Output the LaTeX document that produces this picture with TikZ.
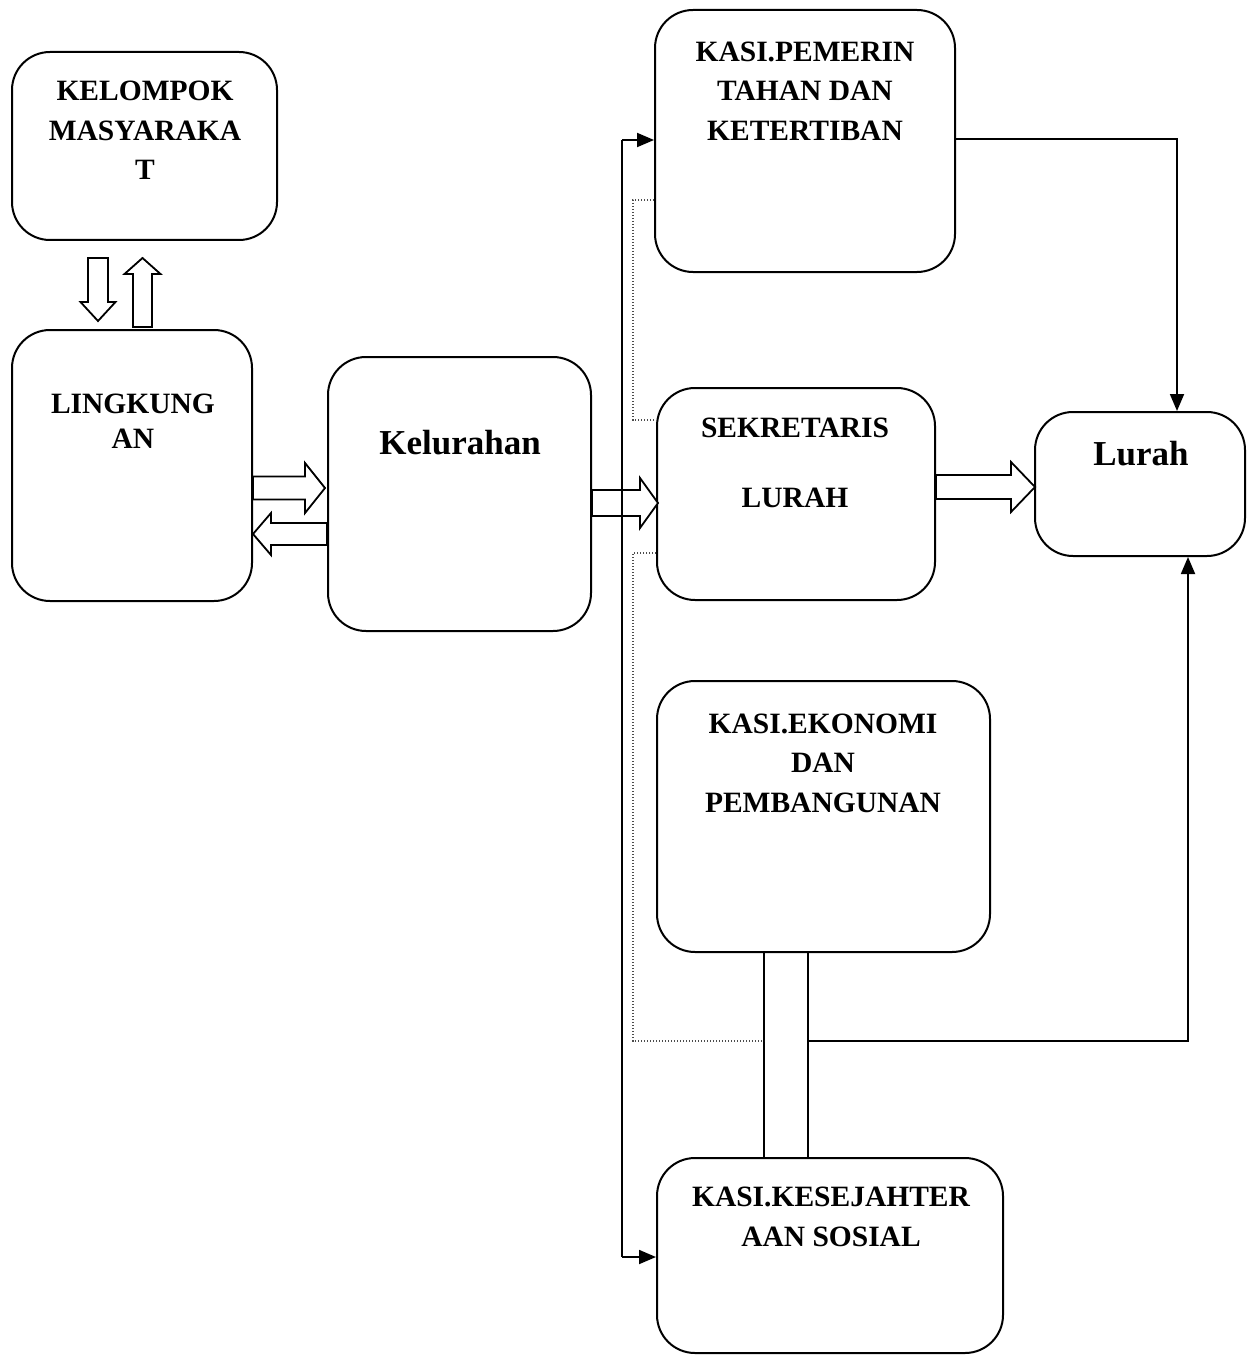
\documentclass[tikz,border=0pt]{standalone}
\usepackage{fontspec}
\setmainfont{Liberation Serif}
\usetikzlibrary{calc,arrows.meta}
\tikzset{
  box/.style={draw, rounded corners=38pt, line width=2pt, inner sep=0pt},
  txt/.style={font=\fontsize{29.5}{39.5}\selectfont\bfseries, align=center, inner sep=0pt},
  bigtxt/.style={font=\fontsize{35}{40}\selectfont\bfseries, inner sep=0pt},
  conn/.style={line width=1.9pt},
  tip/.style={-{Triangle[length=17pt,width=14pt]}},
  dots/.style={line width=1.5pt, dash pattern=on 1.4pt off 1.6pt, black!70},
  hollow/.style={draw, line width=1.8pt, fill=white, line join=miter}
}
% horizontal hollow arrow: tail, tip, shaft half width, head half width, signed head length
\newcommand{\harr}[5]{%
  \draw[hollow] let \p1=(#1), \p2=(#2) in
    (\x1,\y2+#3pt) -- (\x2-#5pt,\y2+#3pt) -- (\x2-#5pt,\y2+#4pt) -- (\x2,\y2)
    -- (\x2-#5pt,\y2-#4pt) -- (\x2-#5pt,\y2-#3pt) -- (\x1,\y2-#3pt) -- cycle;}
% vertical hollow arrow: tail, tip, shaft half width, head half width, signed head length (positive = down)
\newcommand{\varr}[5]{%
  \draw[hollow] let \p1=(#1), \p2=(#2) in
    (\x2-#3pt,\y1) -- (\x2-#3pt,\y2+#5pt) -- (\x2-#4pt,\y2+#5pt) -- (\x2,\y2)
    -- (\x2+#4pt,\y2+#5pt) -- (\x2+#3pt,\y2+#5pt) -- (\x2+#3pt,\y1) -- cycle;}
\begin{document}
\begin{tikzpicture}[x=1pt,y=-1pt]
\useasboundingbox (0,0) rectangle (1248,1356);

% boxes
\node[box, minimum width=265pt, minimum height=188pt] (kelompok) at (144.5,146) {};
\node[box, minimum width=240pt, minimum height=271pt] (lingk) at (132,465.5) {};
\node[box, minimum width=263pt, minimum height=274pt] (kelur) at (459.5,494) {};
\node[box, minimum width=300pt, minimum height=262pt] (pem) at (805,141) {};
\node[box, minimum width=278pt, minimum height=212pt] (sek) at (796,494) {};
\node[box, minimum width=210pt, minimum height=144pt] (lurah) at (1140,484) {};
\node[box, minimum width=333pt, minimum height=271pt] (eko) at (823.5,816.5) {};
\node[box, minimum width=346pt, minimum height=195pt] (kes) at (830,1255.5) {};

% texts
\node[txt] (tkelompok) at (145,130.5) {KELOMPOK\\MASYARAKA\\T};
\node[txt, font=\fontsize{29.5}{35}\selectfont\bfseries] (tlingk) at (133,421.5) {LINGKUNG\\AN};
\node[bigtxt] (tkelur) at (460,443) {Kelurahan};
\node[txt] (tpem) at (805,91) {KASI.PEMERIN\\TAHAN DAN\\KETERTIBAN};
\node[txt, font=\fontsize{29.5}{70}\selectfont\bfseries] (tsek) at (795,463) {SEKRETARIS\\LURAH};
\node[bigtxt] (tlurah) at (1141,454) {Lurah};
\node[txt] (teko) at (823,763) {KASI.EKONOMI\\DAN\\PEMBANGUNAN};
\node[txt, font=\fontsize{29.5}{40}\selectfont\bfseries] (tkes) at (831,1217) {KASI.KESEJAHTER\\AAN SOSIAL};

% hollow arrows
\varr{$(kelompok.south)+(-46.5,17)$}{$(lingk.north)+(-34,-8)$}{10}{17.5}{19}
\varr{$(lingk.north)+(10.5,-2)$}{$(kelompok.south)+(-2,17)$}{9.5}{18}{-16}
\harr{$(lingk.east)+(0,22.5)$}{$(kelur.west)+(-2,-6)$}{11.5}{25}{20}
\harr{$(kelur.west)+(0,40)$}{$(lingk.east)+(0,68.5)$}{11}{21}{-18}
\harr{$(kelur.east)+(0,9)$}{$(sek.west)+(2,9)$}{13}{25}{18}
\harr{$(sek.east)+(0,3)$}{$(lurah.west)+(1,3)$}{12}{25}{24}

% solid connectors
\coordinate (b1) at (622,140);
\coordinate (b2) at (622,1257);
\draw[conn] (b1) -- (b2);
\draw[conn,tip] (b1) -- (b1 -| pem.west);
\draw[conn,tip] (b2) -- (b2 -| kes.west);
\draw[conn,tip] ($(pem.east)+(0,-2)$) -| ($(lurah.north)+(37,0)$);

\coordinate (d1) at (764,1041);
\coordinate (d2) at (808,1041);
\draw[conn] (eko.south -| d1) -- (kes.north -| d1);
\draw[conn] (eko.south -| d2) -- (kes.north -| d2);
\draw[conn,tip] (d2) -| ($(lurah.south)+(48,0)$);

% dotted connectors
\coordinate (e1) at (633,200);
\coordinate (e2) at (633,420);
\coordinate (e3) at (633,553);
\coordinate (e4) at (633,1041);
\draw[dots] (e1 -| pem.west) -- (e1) -- (e2) -- (e2 -| sek.west);
\draw[dots] (e3 -| sek.west) -- (e3) -- (e4) -- (d1);
\end{tikzpicture}
\end{document}
